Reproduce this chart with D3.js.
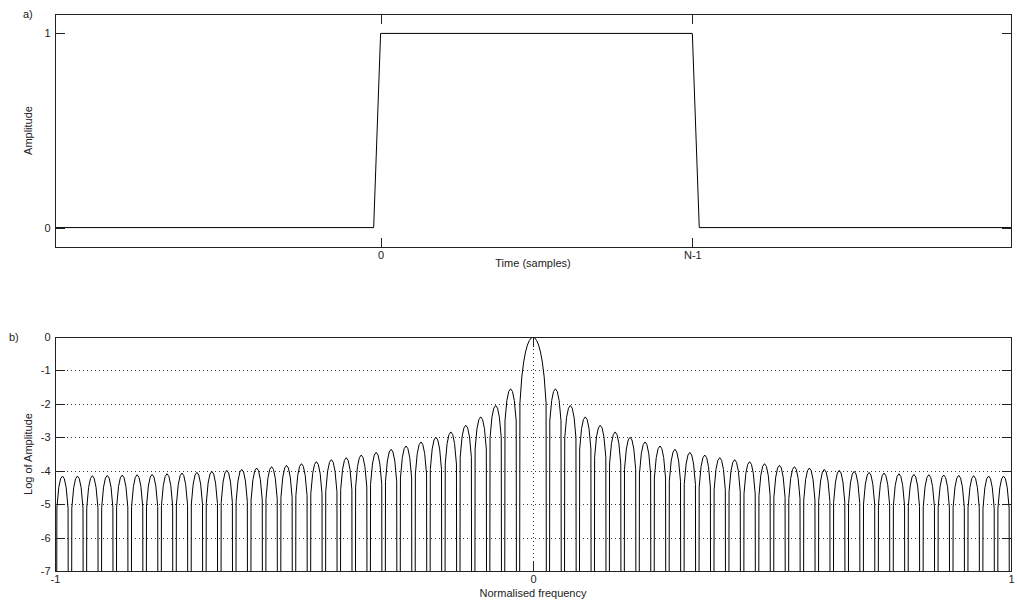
<!DOCTYPE html>
<html>
<head>
<meta charset="utf-8">
<script src="https://cdn.jsdelivr.net/npm/d3@7"></script>
<style>
  body { margin: 0; background: #fff; }
  svg { display: block; font-family: "Liberation Sans", Arial, Helvetica, sans-serif; }
  .tick text { font-size: 11px; fill: #222; }
  .lbl { font-size: 11px; fill: #222; }
</style>
</head>
<body>
<svg id="chart" width="1017" height="607"></svg>
<script>
// ---- Panel a: rectangular window in the time domain ----
const amplitudeTicks = [0, 1];
const timeTickValues = [0, 45];
const timeTickLabels = ["0", "N-1"];
const windowTimes = [-47, -1, 0, 45, 46, 91];
const windowAmplitude = [0, 0, 1, 1, 0, 0];

// ---- Panel b: log magnitude of its spectrum ----
const freqTicks = [-1, 0, 1];
const logTicks = [0, -1, -2, -3, -4, -5, -6, -7];
const nullsPerSide = 32;          // zero crossings every 1/32 of the band
// peak of each side lobe (log amplitude), from the centre outwards
const sidelobePeaks = [-1.55, -2.05, -2.39, -2.64, -2.84, -3.00, -3.14, -3.26,
                       -3.36, -3.45, -3.53, -3.61, -3.67, -3.73, -3.79, -3.84,
                       -3.88, -3.92, -3.96, -3.99, -4.02, -4.05, -4.07, -4.09,
                       -4.11, -4.12, -4.13, -4.14, -4.15, -4.16, -4.16];
// sampled outline of one side lobe relative to its peak (8 steps null to null)
const sidelobeShape = [-Infinity, -0.96, -0.35, -0.08, 0, -0.08, -0.35, -0.96, -Infinity];
// sampled outline of the main lobe (16 steps null to null)
const mainLobeShape = [-Infinity, -1.97, -1.20, -0.75, -0.45, -0.24, -0.11, -0.03, 0,
                       -0.03, -0.11, -0.24, -0.45, -0.75, -1.20, -1.97, -Infinity];
const NULL_FLOOR = -40;

const svg = d3.select("#chart");
const TICK = 9.5;
const plainNumber = d => String(d);   // hyphen-minus, as on the plot

function frame(g, xr, yr) {
  g.append("rect")
    .attr("x", xr[0] + 0.5).attr("y", yr[1] + 0.5)
    .attr("width", xr[1] - xr[0]).attr("height", yr[0] - yr[1])
    .attr("fill", "none").attr("stroke", "#222").attr("stroke-width", 1)
    .attr("shape-rendering", "crispEdges");
}

function styleAxis(sel) {
  sel.select(".domain").remove();
  sel.selectAll(".tick line").attr("stroke", "#222").attr("shape-rendering", "crispEdges");
}

// ================= Panel a =================
{
  const L = 55, R = 1011, T = 14, B = 247;
  const x = d3.scaleLinear().domain([-47, 91]).range([L, R]);
  const y = d3.scaleLinear().domain([-0.1, 1.1]).range([B, T]);
  const g = svg.append("g");

  const pts = windowTimes.map((t, i) => [t, windowAmplitude[i]]);
  g.append("path")
    .datum(pts)
    .attr("fill", "none").attr("stroke", "#000").attr("stroke-width", 1)
    .attr("d", d3.line().x(d => x(d[0])).y(d => y(d[1])));

  g.append("g").attr("transform", `translate(0,${B + 0.5})`)
    .call(d3.axisBottom(x).tickValues(timeTickValues)
      .tickFormat((d, i) => timeTickLabels[i]).tickSizeInner(-TICK).tickSizeOuter(0).tickPadding(4))
    .call(styleAxis);
  g.append("g").attr("transform", `translate(0,${T + 0.5})`)
    .call(d3.axisTop(x).tickValues(timeTickValues).tickFormat("").tickSizeInner(-TICK).tickSizeOuter(0))
    .call(styleAxis);
  g.append("g").attr("transform", `translate(${L + 0.5},0)`)
    .call(d3.axisLeft(y).tickValues(amplitudeTicks).tickFormat(plainNumber)
      .tickSizeInner(-TICK).tickSizeOuter(0).tickPadding(5))
    .call(styleAxis);
  g.append("g").attr("transform", `translate(${R + 0.5},0)`)
    .call(d3.axisRight(y).tickValues(amplitudeTicks).tickFormat("").tickSizeInner(-TICK).tickSizeOuter(0))
    .call(styleAxis);

  frame(g, [L, R], [B, T]);

  g.append("text").attr("class", "lbl").attr("x", (L + R) / 2).attr("y", 267)
    .attr("text-anchor", "middle").text("Time (samples)");
  g.append("text").attr("class", "lbl").attr("transform", `translate(32,${(T + B) / 2}) rotate(-90)`)
    .attr("text-anchor", "middle").text("Amplitude");
  g.append("text").attr("class", "lbl").attr("x", 23).attr("y", 18).text("a)");
}

// ================= Panel b =================
{
  const L = 55, R = 1011, T = 337, B = 571;
  const x = d3.scaleLinear().domain([-1, 1]).range([L, R]);
  const y = d3.scaleLinear().domain([-7, 0]).range([B, T]);
  const g = svg.append("g");

  svg.append("defs").append("clipPath").attr("id", "clipB")
    .append("rect").attr("x", L).attr("y", T).attr("width", R - L + 1).attr("height", B - T + 1);

  // dotted grid
  const grid = g.append("g").attr("stroke", "#333").attr("stroke-width", 1)
    .attr("stroke-dasharray", "1,3").attr("shape-rendering", "crispEdges");
  grid.selectAll("line.h").data(logTicks.filter(v => v > -7 && v < 0)).join("line")
    .attr("x1", L).attr("x2", R).attr("y1", d => Math.round(y(d)) + 0.5).attr("y2", d => Math.round(y(d)) + 0.5);
  grid.selectAll("line.v").data(freqTicks.filter(v => v > -1 && v < 1)).join("line")
    .attr("y1", T).attr("y2", B).attr("x1", d => Math.round(x(d)) + 0.5).attr("x2", d => Math.round(x(d)) + 0.5);

  // assemble the spectrum outline from the main lobe and mirrored side lobes
  const step = 1 / nullsPerSide;
  const right = [];
  mainLobeShape.forEach((v, i) => {
    const f = (i - 8) / 8 * step;
    if (f >= 0) right.push([f, v]);
  });
  sidelobePeaks.forEach((p, k) => {
    for (let j = 1; j < sidelobeShape.length; j++) {
      right.push([(k + 1 + j / 8) * step, p + sidelobeShape[j]]);
    }
  });
  const left = right.slice(1).map(d => [-d[0], d[1]]).reverse();
  const spectrum = left.concat(right).map(d => [d[0], Math.max(d[1], NULL_FLOOR)]);

  g.append("path")
    .datum(spectrum)
    .attr("clip-path", "url(#clipB)")
    .attr("fill", "none").attr("stroke", "#000").attr("stroke-width", 1)
    .attr("d", d3.line().x(d => x(d[0])).y(d => y(d[1])));

  g.append("g").attr("transform", `translate(0,${B + 0.5})`)
    .call(d3.axisBottom(x).tickValues(freqTicks).tickFormat(plainNumber)
      .tickSizeInner(-TICK).tickSizeOuter(0).tickPadding(4))
    .call(styleAxis);
  g.append("g").attr("transform", `translate(0,${T + 0.5})`)
    .call(d3.axisTop(x).tickValues(freqTicks).tickFormat("").tickSizeInner(-TICK).tickSizeOuter(0))
    .call(styleAxis);
  g.append("g").attr("transform", `translate(${L + 0.5},0)`)
    .call(d3.axisLeft(y).tickValues(logTicks).tickFormat(plainNumber)
      .tickSizeInner(-TICK).tickSizeOuter(0).tickPadding(5))
    .call(styleAxis);
  g.append("g").attr("transform", `translate(${R + 0.5},0)`)
    .call(d3.axisRight(y).tickValues(logTicks).tickFormat("").tickSizeInner(-TICK).tickSizeOuter(0))
    .call(styleAxis);

  frame(g, [L, R], [B, T]);

  g.append("text").attr("class", "lbl").attr("x", (L + R) / 2).attr("y", 597)
    .attr("text-anchor", "middle").text("Normalised frequency");
  g.append("text").attr("class", "lbl").attr("transform", `translate(32,${(T + B) / 2}) rotate(-90)`)
    .attr("text-anchor", "middle").text("Log of Amplitude");
  g.append("text").attr("class", "lbl").attr("x", 9).attr("y", 341).text("b)");
}
</script>
</body>
</html>
